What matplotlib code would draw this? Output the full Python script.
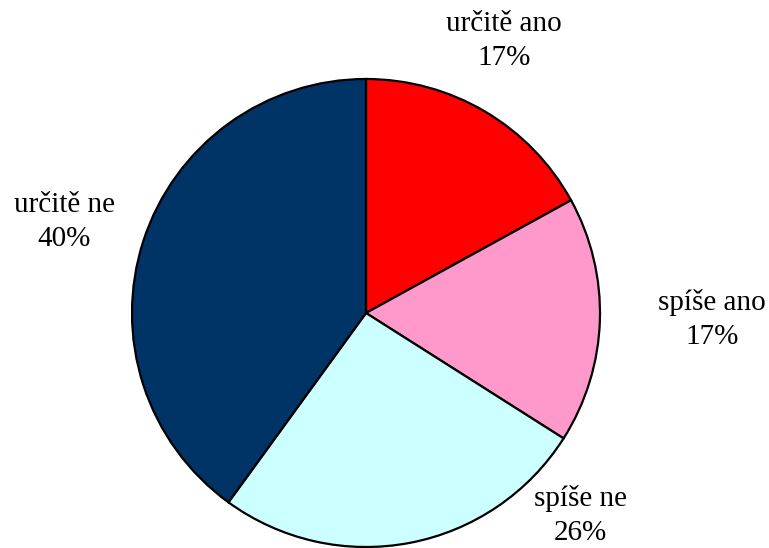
import matplotlib
matplotlib.use("Agg")
import matplotlib.pyplot as plt

# Data
categories = ["určitě ano", "spíše ano", "spíše ne", "určitě ne"]
shares = [17, 17, 26, 40]
colors = ["#FF0000", "#FF99CC", "#CCFFFF", "#003366"]

# label centres in figure pixels (x from left, y from top)
label_pos = [(504, 41), (712, 320), (580, 516), (64, 222)]

W, H = 769, 548
fig = plt.figure(figsize=(W / 100, H / 100), dpi=100)
plt.rcParams['font.family'] = ['Liberation Serif', 'DejaVu Serif']

# pie centre (366, 313) px, radius 234 px
cx, cy, r = 366, 313, 234
ax = fig.add_axes([(cx - r) / W, (H - cy - r) / H, 2 * r / W, 2 * r / H])
ax.pie(shares, colors=colors, startangle=90, counterclock=False,
       wedgeprops=dict(edgecolor="black", linewidth=1.6))
ax.set_xlim(-1, 1)
ax.set_ylim(-1, 1)
ax.axis("off")

for cat, val, (px, py) in zip(categories, shares, label_pos):
    fig.text(px / W, 1 - py / H, f"{cat}\n{val}%", ha="center", va="center",
             fontsize=21, linespacing=1.4, color="black")

fig.savefig("out.png", dpi=100)
